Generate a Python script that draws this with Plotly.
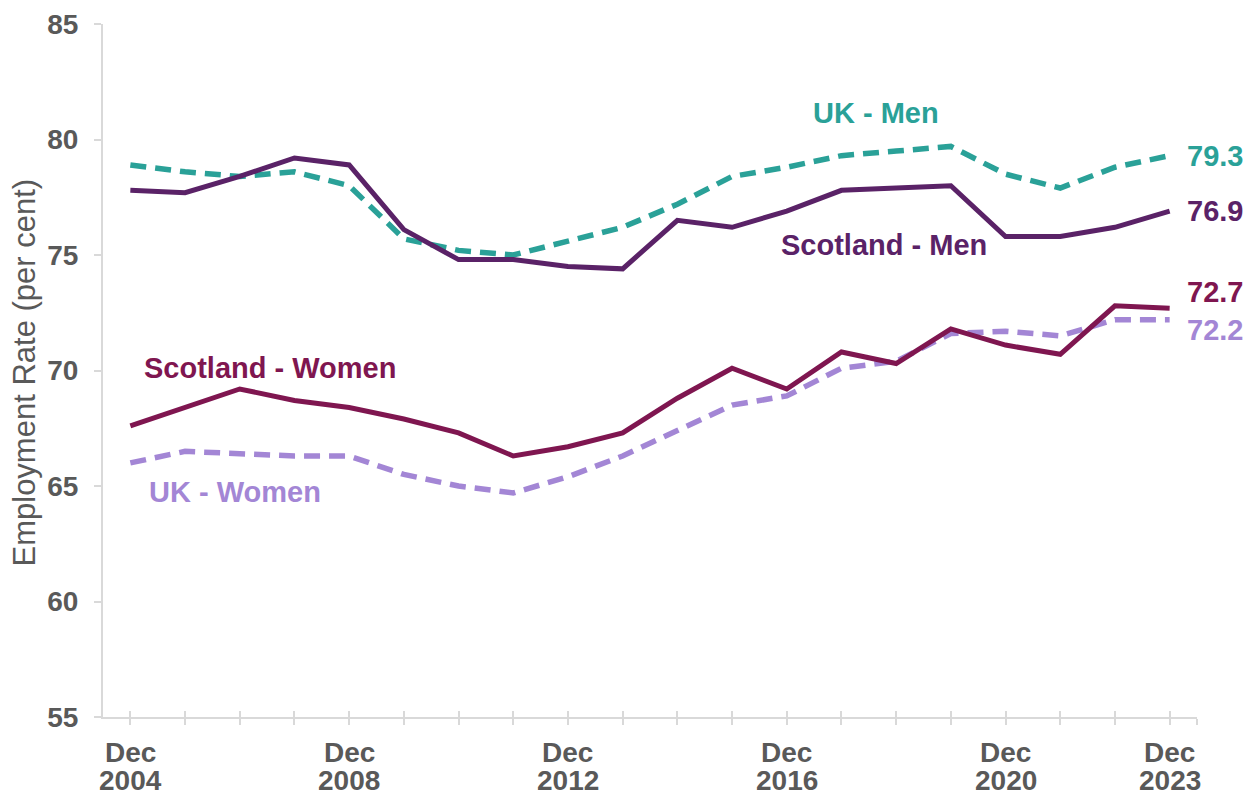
import plotly.graph_objects as go

years = list(range(2004, 2024))
uk_men = [78.9, 78.6, 78.4, 78.6, 78.0, 75.7, 75.2, 75.0, 75.6, 76.2, 77.2, 78.4, 78.8, 79.3, 79.5, 79.7, 78.5, 77.9, 78.8, 79.3]
scot_men = [77.8, 77.7, 78.4, 79.2, 78.9, 76.1, 74.8, 74.8, 74.5, 74.4, 76.5, 76.2, 76.9, 77.8, 77.9, 78.0, 75.8, 75.8, 76.2, 76.9]
scot_women = [67.6, 68.4, 69.2, 68.7, 68.4, 67.9, 67.3, 66.3, 66.7, 67.3, 68.8, 70.1, 69.2, 70.8, 70.3, 71.8, 71.1, 70.7, 72.8, 72.7]
uk_women = [66.0, 66.5, 66.4, 66.3, 66.3, 65.5, 65.0, 64.7, 65.4, 66.3, 67.4, 68.5, 68.9, 70.1, 70.4, 71.6, 71.7, 71.5, 72.2, 72.2]

label_years = [2004, 2008, 2012, 2016, 2020, 2023]
y_ticks = [55, 60, 65, 70, 75, 80, 85]

TEAL = "#2AA198"
PURPLE = "#5A2267"
MAROON = "#7F1650"
LAVENDER = "#A386D5"
GREY = "#595959"
AXIS = "#D9D9D9"
FONT = "Liberation Sans, Arial, sans-serif"

fig = go.Figure()
series = [
    ("UK - Men", uk_men, TEAL, "16px,9px"),
    ("Scotland - Men", scot_men, PURPLE, "solid"),
    ("UK - Women", uk_women, LAVENDER, "16px,9px"),
    ("Scotland - Women", scot_women, MAROON, "solid"),
]
for name, vals, col, dash in series:
    fig.add_trace(go.Scatter(x=years, y=vals, mode="lines", name=name,
                             line=dict(color=col, width=5.5 if dash != "solid" else 5, dash=dash),
                             showlegend=False, hoverinfo="x+y"))

# series labels
series_labels = [
    ("UK - Men", 2017.64, 81.15, TEAL),
    ("Scotland - Men", 2017.77, 75.43, PURPLE),
    ("Scotland - Women", 2006.55, 70.13, MAROON),
    ("UK - Women", 2005.92, 64.74, LAVENDER),
]
for txt, x, y, col in series_labels:
    fig.add_annotation(x=x, y=y, text=txt, showarrow=False,
                       font=dict(family=FONT, size=29, color=col, weight="bold"))

# end value labels
end_labels = [
    (uk_men[-1], TEAL, 0),
    (scot_men[-1], PURPLE, 0),
    (scot_women[-1], MAROON, 16),
    (uk_women[-1], LAVENDER, -10),
]
for v, col, ys in end_labels:
    fig.add_annotation(x=years[-1], y=v, text=f"{v:.1f}", showarrow=False,
                       xanchor="left", xshift=15, yshift=ys,
                       font=dict(family=FONT, size=29, color=col, weight="bold"))

# x category labels (two tight lines)
for yr in label_years:
    fig.add_annotation(x=yr, y=0, yref="paper", text="Dec", showarrow=False,
                       yanchor="middle", yshift=-35,
                       font=dict(family=FONT, size=28, color=GREY, weight="bold"))
    fig.add_annotation(x=yr, y=0, yref="paper", text=str(yr), showarrow=False,
                       yanchor="middle", yshift=-63,
                       font=dict(family=FONT, size=28, color=GREY, weight="bold"))

# y axis title
fig.add_annotation(x=0, y=0.5, xref="paper", yref="paper", text="Employment Rate (per cent)",
                   showarrow=False, textangle=-90, xanchor="center", yanchor="middle",
                   xshift=-79, yshift=-2,
                   font=dict(family=FONT, size=31, color=GREY))

tickvals = years + [2023.5]

fig.update_layout(
    width=1250, height=788,
    margin=dict(l=95, r=61, t=16, b=79, autoexpand=False),
    plot_bgcolor="white", paper_bgcolor="white",
    font=dict(family=FONT, color=GREY),
    xaxis=dict(range=[2003.5, 2023.5], tickmode="array", tickvals=tickvals,
               ticktext=[""] * len(tickvals), automargin=False,
               showgrid=False, zeroline=False, showline=True, linecolor=AXIS, linewidth=2,
               ticks="outside", ticklen=6, tickcolor=AXIS, tickwidth=2),
    xaxis2=dict(range=[2003.5, 2023.5], overlaying="x", anchor="y", side="bottom",
                tickmode="array", tickvals=tickvals, ticktext=[""] * len(tickvals),
                showgrid=False, zeroline=False, showline=False, automargin=False,
                ticks="inside", ticklen=6, tickcolor=AXIS, tickwidth=2),
    yaxis=dict(range=[55, 85], tickmode="array", tickvals=y_ticks, automargin=False,
               showgrid=False, zeroline=False, showline=True, linecolor=AXIS, linewidth=2,
               ticks="outside", ticklen=7, tickcolor=AXIS, tickwidth=2,
               ticklabelstandoff=10,
               tickfont=dict(family=FONT, size=28, color=GREY, weight="bold")),
)
fig.add_trace(go.Scatter(x=[2004], y=[60], xaxis="x2", mode="markers",
                         marker=dict(opacity=0), showlegend=False, hoverinfo="skip"))

fig.write_html("out.html")
